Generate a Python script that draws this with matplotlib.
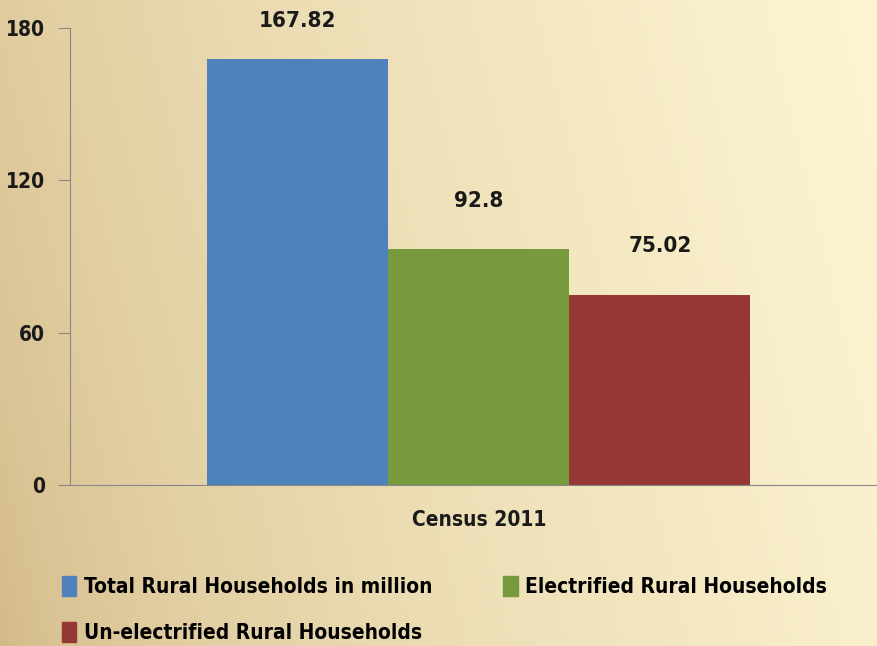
import numpy as np
import matplotlib.pyplot as plt
from matplotlib.patches import Patch

categories = ['Census 2011']
series_names = ['Total Rural Households in million',
                'Electrified Rural Households',
                'Un-electrified Rural Households']
series_values = [167.82, 92.8, 75.02]
series_labels = ['167.82', '92.8', '75.02']
colors = ['#4f81bd', '#779a3c', '#953735']
yticks = [0, 60, 120, 180]

plt.rcParams['font.family'] = ['DejaVu Sans']
plt.rcParams['font.stretch'] = 'condensed'
plt.rcParams['font.weight'] = 'bold'

fig = plt.figure(figsize=(8.78, 6.46), dpi=100)

# фон: тёплый градиент слева направо
bg = fig.add_axes([0, 0, 1, 1], zorder=-1)
xx, yy = np.meshgrid(np.linspace(0, 1, 400), np.linspace(0, 1, 300))
t = np.clip(xx * 0.85 + (1 - yy) * 0.15, 0, 1) ** 0.6
left = np.array([210, 184, 134]) / 255
right = np.array([253, 245, 210]) / 255
img = left[None, None, :] * (1 - t[..., None]) + right[None, None, :] * t[..., None]
bg.imshow(img, aspect='auto', extent=[0, 1, 0, 1], origin='upper')
bg.axis('off')

ax = fig.add_axes([70 / 878, 1 - 485 / 646, 808 / 878, 457 / 646])
ax.patch.set_alpha(0)

width = 0.224
x0 = np.arange(len(categories))
for i, (v, c) in enumerate(zip(series_values, colors)):
    xpos = x0 + (i - 1) * width
    ax.bar(xpos, [v], width=width, color=c, label=series_names[i])
    ax.text(xpos[0], min(v + 19, 182.8), series_labels[i], ha='center', va='center',
            fontsize=16, fontweight='bold', color='#1a1a1a')

ax.set_xlim(-0.506, 0.494)
ax.set_ylim(0, 180)
ax.set_yticks(yticks)
ax.set_yticklabels([str(v) for v in yticks], fontsize=15, fontweight='bold', color='#1a1a1a')
ax.tick_params(axis='y', length=9, color='#888888', pad=9)
ax.set_xticks([0])
ax.set_xticklabels(categories, fontsize=15, fontweight='bold', color='#1a1a1a')
ax.tick_params(axis='x', length=0, pad=18)
for s in ['top', 'right']:
    ax.spines[s].set_visible(False)
ax.spines['left'].set_color('#888888')
ax.spines['bottom'].set_color('#888888')

# порядок для заполнения по строкам: Total, Electrified / Un-electrified
order = [0, 2, 1]
handles = [Patch(color=colors[i]) for i in order]
labels = [series_names[i] for i in order]
fig.legend(handles, labels, loc='upper left', bbox_to_anchor=(43 / 878, 1 - 557 / 646),
           ncol=2, frameon=False, handlelength=0.7, handleheight=1.1,
           handletextpad=0.35, columnspacing=3.4, labelspacing=1.2,
           prop={'weight': 'bold', 'size': 15, 'stretch': 'condensed'})

plt.savefig('out.png', dpi=100)
